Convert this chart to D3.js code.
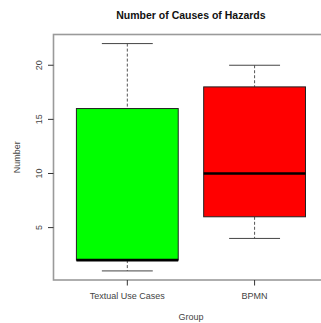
<!DOCTYPE html>
<html>
<head>
<meta charset="utf-8">
<script src="https://cdn.jsdelivr.net/npm/d3@7"></script>
<style>
  html, body { margin: 0; padding: 0; background: #fff; }
  svg { display: block; }
  text { font-family: "Liberation Sans", Arial, sans-serif; }
</style>
</head>
<body>
<svg id="chart" width="321" height="323"></svg>
<script>
// Five-number summaries for each group
const groups = ["Textual Use Cases", "BPMN"];
const mins = [1, 4];
const q1s = [2, 6];
const medians = [2, 10];
const q3s = [16, 18];
const maxs = [22, 20];
const fills = ["#00ff00", "#ff0000"];
const yTicks = [5, 10, 15, 20];

const svg = d3.select("#chart");

// Data range padded by 4% on each side, as in base R graphics
const lo = d3.min(mins), hi = d3.max(maxs);
const pad = (hi - lo) * 0.04;
const y = d3.scaleLinear().domain([lo - pad, hi + pad]).range([280, 34.5]);
const x = d3.scaleLinear().domain([0.42, 2.58]).range([53.5, 328.4]);

const boxW = x(1.8) - x(1);
const capW = boxW / 2;

// Plot frame
svg.append("rect")
  .attr("x", x(0.42)).attr("y", y(hi + pad))
  .attr("width", x(2.58) - x(0.42)).attr("height", y(lo - pad) - y(hi + pad))
  .attr("fill", "none").attr("stroke", "#9a9a9a").attr("stroke-width", 1.6);

const g = svg.append("g");
groups.forEach((name, i) => {
  const cx = x(i + 1);
  // whiskers
  g.append("line").attr("x1", cx).attr("x2", cx)
    .attr("y1", y(maxs[i])).attr("y2", y(q3s[i]))
    .attr("stroke", "#555").attr("stroke-width", 1).attr("stroke-dasharray", "3,2");
  g.append("line").attr("x1", cx).attr("x2", cx)
    .attr("y1", y(q1s[i])).attr("y2", y(mins[i]))
    .attr("stroke", "#555").attr("stroke-width", 1).attr("stroke-dasharray", "3,2");
  // caps
  [maxs[i], mins[i]].forEach(v => {
    g.append("line").attr("x1", cx - capW / 2).attr("x2", cx + capW / 2)
      .attr("y1", y(v)).attr("y2", y(v))
      .attr("stroke", "#444").attr("stroke-width", 1);
  });
  // box
  g.append("rect")
    .attr("x", cx - boxW / 2).attr("y", y(q3s[i]))
    .attr("width", boxW).attr("height", y(q1s[i]) - y(q3s[i]))
    .attr("fill", fills[i]).attr("stroke", "#222").attr("stroke-width", 1);
  // median
  g.append("line").attr("x1", cx - boxW / 2).attr("x2", cx + boxW / 2)
    .attr("y1", y(medians[i])).attr("y2", y(medians[i]))
    .attr("stroke", "#000").attr("stroke-width", 2.6);
});

// Y axis
const yAxis = svg.append("g");
yTicks.forEach(t => {
  yAxis.append("line").attr("x1", 48).attr("x2", 53.5)
    .attr("y1", y(t)).attr("y2", y(t)).attr("stroke", "#333").attr("stroke-width", 1);
  yAxis.append("text")
    .attr("transform", `translate(42,${y(t)}) rotate(-90)`)
    .attr("text-anchor", "middle")
    .attr("font-size", 9).attr("fill", "#444")
    .text(t);
});

// X axis
const xAxis = svg.append("g");
groups.forEach((name, i) => {
  const cx = x(i + 1);
  xAxis.append("line").attr("x1", cx).attr("x2", cx)
    .attr("y1", 280).attr("y2", 285.5).attr("stroke", "#333").attr("stroke-width", 1);
  xAxis.append("text")
    .attr("x", cx).attr("y", 299)
    .attr("text-anchor", "middle")
    .attr("font-size", 9).attr("fill", "#444")
    .text(name);
});

// Titles
const plotMid = (x(0.42) + x(2.58)) / 2;
svg.append("text")
  .attr("x", plotMid).attr("y", 19)
  .attr("text-anchor", "middle")
  .attr("font-size", 10.5).attr("font-weight", "bold").attr("fill", "#111")
  .text("Number of Causes of Hazards");
svg.append("text")
  .attr("x", plotMid).attr("y", 320)
  .attr("text-anchor", "middle")
  .attr("font-size", 9).attr("fill", "#444")
  .text("Group");
svg.append("text")
  .attr("transform", `translate(20,${(y(hi + pad) + y(lo - pad)) / 2}) rotate(-90)`)
  .attr("text-anchor", "middle")
  .attr("font-size", 9).attr("fill", "#444")
  .text("Number");
</script>
</body>
</html>
